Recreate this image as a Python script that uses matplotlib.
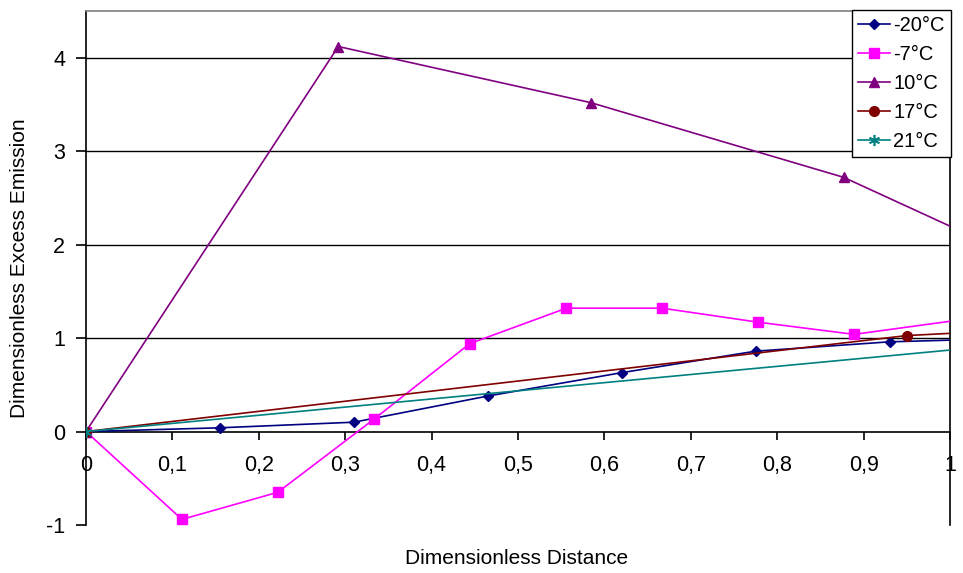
import matplotlib
matplotlib.use("Agg")
import matplotlib.pyplot as plt

plt.rcParams['font.family'] = ['Liberation Sans', 'DejaVu Sans']

# Data
x_m20 = [0, 0.155, 0.31, 0.465, 0.62, 0.775, 0.93, 1.085]
y_m20 = [0, 0.04, 0.10, 0.38, 0.63, 0.86, 0.96, 1.00]

x_m7 = [0, 0.111, 0.222, 0.333, 0.444, 0.556, 0.667, 0.778, 0.889, 1.0]
y_m7 = [0, -0.94, -0.65, 0.13, 0.94, 1.32, 1.32, 1.17, 1.04, 1.18]

x_10 = [0, 0.292, 0.584, 0.877, 1.169]
y_10 = [0, 4.12, 3.52, 2.72, 1.48]

x_17 = [0, 0.95, 1.9]
y_17 = [0, 1.027, 1.48]

x_21 = [0, 1.25]
y_21 = [0, 1.09]

labels = ['-20°C', '-7°C', '10°C', '17°C', '21°C']
xticks = [0, 0.1, 0.2, 0.3, 0.4, 0.5, 0.6, 0.7, 0.8, 0.9, 1.0]
xticklabels = ['0', '0,1', '0,2', '0,3', '0,4', '0,5', '0,6', '0,7', '0,8', '0,9', '1']
yticks = [-1, 0, 1, 2, 3, 4]

fig = plt.figure(figsize=(9.63, 5.73), dpi=100)
ax = fig.add_axes([86/963, 1-525/573, (950-86)/963, (525-11)/573])

lw = 1.2
ax.plot(x_m20, y_m20, color='#000080', marker='D', ms=5.5, lw=lw, label=labels[0], zorder=5)
ax.plot(x_m7, y_m7, color='#FF00FF', marker='s', ms=7, lw=lw, label=labels[1], zorder=5,
        markevery=slice(0, len(x_m7)-1))
ax.plot(x_10, y_10, color='#800080', marker='^', ms=7, lw=lw, label=labels[2], zorder=5)
ax.plot(x_17, y_17, color='#800000', marker='o', ms=7, lw=lw, label=labels[3], zorder=5)
ax.plot(x_21, y_21, color='#008080', marker=(6, 2, 0), ms=8, mew=1.2, lw=lw, label=labels[4], zorder=5)

ax.set_xlim(0, 1)
ax.set_ylim(-1, 4.5)
ax.set_xticks(xticks)
ax.set_xticklabels(xticklabels)
ax.set_yticks(yticks)
ax.set_yticklabels([str(v) for v in yticks])

ax.spines['bottom'].set_position(('data', 0))
ax.spines['left'].set_position(('data', 0))
for s in ['bottom', 'left', 'right']:
    ax.spines[s].set_color('black')
    ax.spines[s].set_linewidth(1.2)
ax.spines['top'].set_color('#808080')
ax.spines['top'].set_linewidth(1.2)

ax.tick_params(axis='x', direction='out', length=6, width=1.2, pad=11, labelsize=15.5, colors='black')
ax.tick_params(axis='y', direction='out', length=7, width=1.2, pad=8, labelsize=15.5, colors='black')

ax.yaxis.grid(True, color='black', lw=1.0)
for gl, v in zip(ax.get_ygridlines(), yticks):
    if v <= 0:
        gl.set_visible(False)
ax.set_axisbelow(True)

fig.text(517/963, 1 - 558/573, 'Dimensionless Distance',
         ha='center', va='center', fontsize=15)
fig.text(20/963, 1 - 268/573, 'Dimensionless Excess Emission', rotation=90,
         ha='center', va='center', fontsize=15)

leg = ax.legend(loc='upper right', bbox_to_anchor=(951/963, 1 - 10/573),
                bbox_transform=fig.transFigure, fontsize=14.5, frameon=True,
                fancybox=False, edgecolor='black', framealpha=1, handlelength=1.6,
                handletextpad=0.15, labelspacing=0.5, borderpad=0.3, borderaxespad=0)
leg.get_frame().set_linewidth(1.0)
leg.set_zorder(10)

fig.savefig('out.png', dpi=100)
